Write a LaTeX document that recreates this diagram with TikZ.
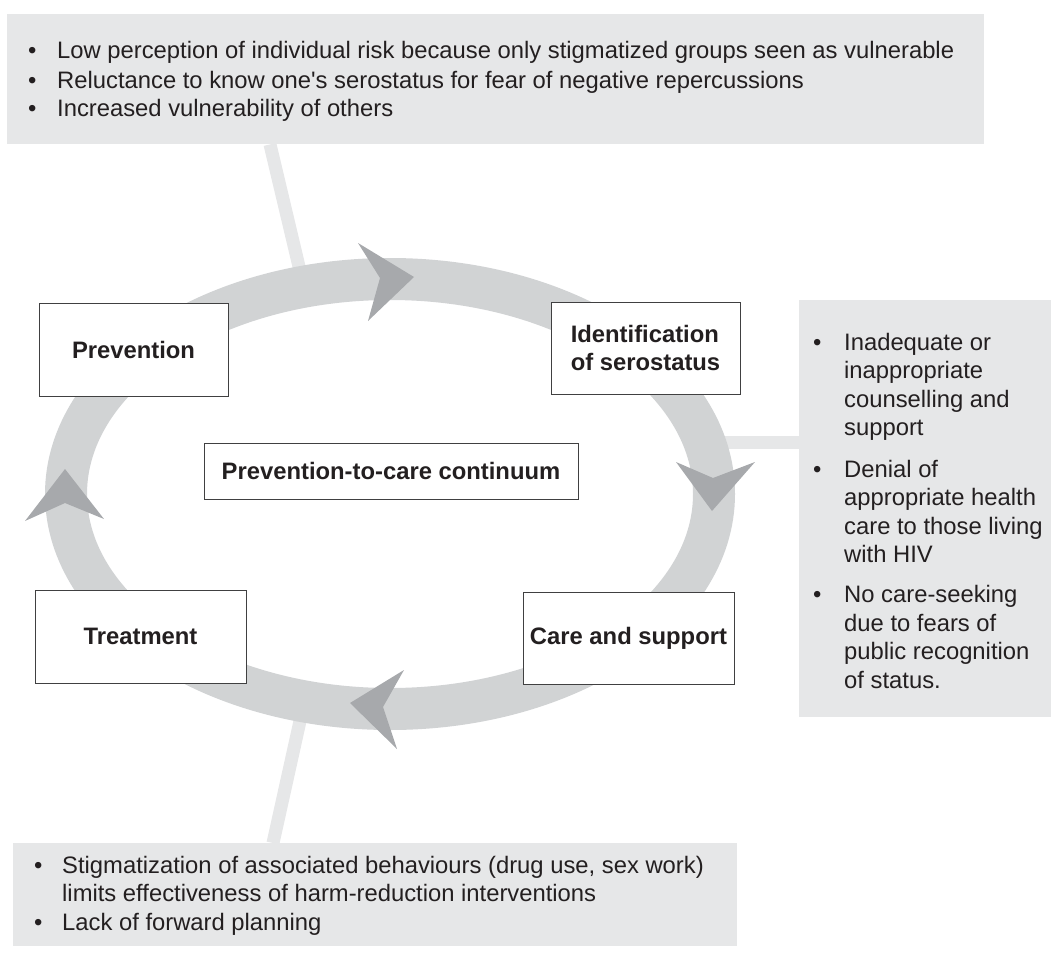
\documentclass[tikz,border=0pt]{standalone}
\usepackage{fontspec}
\setmainfont{Liberation Sans}[Ligatures=TeXOff]
\usetikzlibrary{calc}
\definecolor{boxgray}{HTML}{E6E7E8}
\definecolor{ringgray}{HTML}{D1D3D4}
\definecolor{headgray}{HTML}{A7A9AC}
\definecolor{txt}{HTML}{231F20}
\definecolor{edgecol}{HTML}{404041}
\newcommand{\bodyfont}{\fontsize{23.8}{28.5}\selectfont}
\newcommand{\bul}{\textbullet}
\tikzset{
  panel/.style={fill=boxgray, draw=none, anchor=north west, inner sep=0pt},
  link/.style={draw=boxgray, line width=13pt},
  stage/.style={draw=edgecol, fill=white, line width=1pt, text=txt,
    font=\bfseries\bodyfont, align=center, inner sep=0pt},
  listtext/.style={anchor=base west, inner sep=0pt, text=txt, font=\bodyfont},
  headfill/.style={fill=headgray}
}
\begin{document}
\begin{tikzpicture}[x=1pt,y=-1pt]
\useasboundingbox (0,0) rectangle (1051,966);

% panels
\node[panel, minimum width=977pt, minimum height=130pt] (risk) at (7,14) {};
\node[panel, minimum width=252pt, minimum height=417pt] (carepanel) at (799,300) {};
\node[panel, minimum width=724pt, minimum height=103pt] (behav) at (13,843) {};

% connectors (ends hidden under the ring)
\coordinate (topjoin) at (301,275);
\coordinate (rightjoin) at (715,442);
\coordinate (botjoin) at (302,712);
\draw[link] ($(risk.south west)+(263,0)$) -- (topjoin);
\draw[link] (carepanel.west |- rightjoin) -- (rightjoin);
\draw[link] ($(behav.north west)+(260,0)$) -- (botjoin);

% ring
\draw[ringgray, line width=42pt] (390,494) ellipse [x radius=324, y radius=215];

% arrowheads
\fill[headfill] (414,277) -- (358,243) -- (380,278) -- (368,321) -- cycle;
\fill[headfill] (712,511) -- (676,462) -- (713,478) -- (755,462) -- cycle;
\fill[headfill] (350,703) -- (404,670) -- (383,707) -- (397,749) -- cycle;
\fill[headfill] (65,469) -- (104,519) -- (65,503) -- (25,521) -- cycle;

% stage boxes
\node[stage, minimum width=189pt, minimum height=93pt] (prev) at (133.5,349.5) {Prevention};
\node[stage, minimum width=189pt, minimum height=92pt, align=left] (ident) at (645.5,348) {Identification\\of serostatus};
\node[stage, minimum width=211pt, minimum height=93pt] (treat) at (140.5,636.5) {Treatment};
\node[stage, minimum width=211pt, minimum height=92pt] (care) at (628.5,638) {Care and support};
\node[stage, minimum width=374pt, minimum height=56pt] (cont) at (391,471) {Prevention-to-care continuum};

% list texts
\node[listtext] (risktext) at (28,59) {%
\begin{tabular}[t]{@{}p{29pt}@{}l@{}}
\bul & Low perception of individual risk because only stigmatized groups seen as vulnerable\\[0.5pt]
\bul & Reluctance to know one's serostatus for fear of negative repercussions\\[0.5pt]
\bul & Increased vulnerability of others
\end{tabular}};

\node[listtext] (caretext) at (813,350) {%
\begin{tabular}[t]{@{}p{31pt}@{}l@{}}
\bul & Inadequate or\\
 & inappropriate\\
 & counselling and\\
 & support\\[13pt]
\bul & Denial of\\
 & appropriate health\\
 & care to those living\\
 & with HIV\\[11.5pt]
\bul & No care-seeking\\
 & due to fears of\\
 & public recognition\\
 & of status.
\end{tabular}};

\node[listtext] (behavtext) at (34,873) {%
\begin{tabular}[t]{@{}p{28pt}@{}l@{}}
\bul & Stigmatization of associated behaviours (drug use, sex work)\\
 & limits effectiveness of harm-reduction interventions\\[0.5pt]
\bul & Lack of forward planning
\end{tabular}};
\end{tikzpicture}
\end{document}
